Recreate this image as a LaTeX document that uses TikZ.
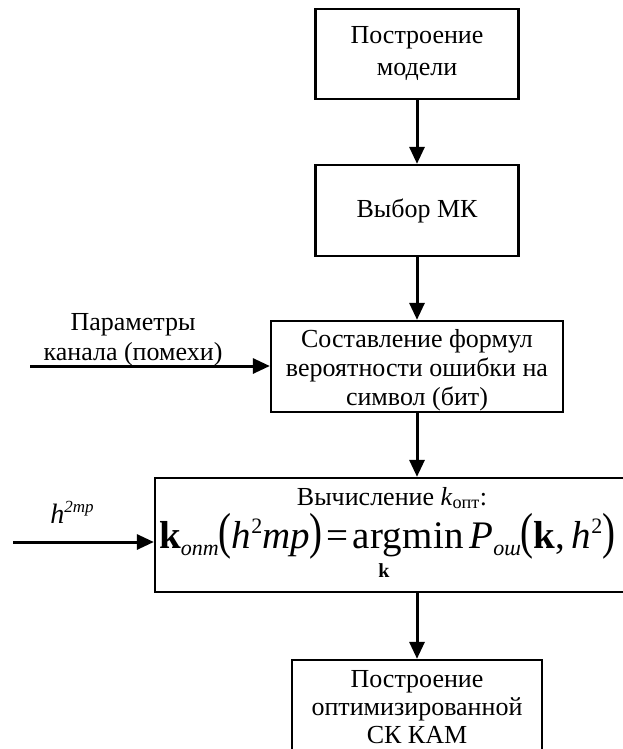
\documentclass[tikz,border=0pt]{standalone}
\usepackage{fontspec}
\setmainfont{Liberation Serif}
\usepackage{graphicx}
\usetikzlibrary{arrows.meta}
\newcommand{\fsub}[1]{\raisebox{-0.18em}{\fontsize{22}{22}\selectfont\itshape #1}}
\newcommand{\fsup}[1]{\raisebox{0.36em}{\fontsize{22}{22}\selectfont #1}}
\newcommand{\bigpar}[1]{\scalebox{1}[1.3]{#1}}
\begin{document}
\begin{tikzpicture}[x=1pt,y=-1pt,
  box/.style={draw,line width=2.3pt,align=center,inner sep=0pt,
    font=\fontsize{26}{30}\selectfont},
  arr/.style={line width=3pt,-{Triangle[length=17pt,width=15pt]}},
  lbl/.style={align=center,inner sep=0pt,font=\fontsize{26}{30}\selectfont}]
\useasboundingbox (0,0) rectangle (622,749);
\node[box,minimum width=203pt,minimum height=90pt,font=\fontsize{26}{32}\selectfont] (b1) at (417,54) {Построение\\модели};
\node[box,minimum width=203pt,minimum height=91pt] (b2) at (417,210.5) {Выбор МК};
\node[box,minimum width=292pt,minimum height=91pt] (b3) at (417,366.5) {};
\node[lbl,font=\fontsize{26}{29}\selectfont] (t3) at (417,370) {Составление формул\\вероятности ошибки на\\символ (бит)};
\node[box,minimum width=470pt,minimum height=114pt] (b4) at (390,535) {};
\node[box,minimum width=250pt,minimum height=100pt] (b5) at (417,710) {};
\node[lbl,font=\fontsize{26}{28}\selectfont] (t5) at (417,707) {Построение\\оптимизированной\\СК КАМ};
\node[lbl] (t4) at (392,498) {Вычисление \textit{k}\textsubscript{опт}:};
\node[inner sep=0pt,anchor=base west,font=\fontsize{39}{39}\selectfont] (f4) at (159,548)
  {\textbf{k}\fsub{опт}\bigpar{(}\textit{h}\fsup{2}\textit{mp}\bigpar{)}\hspace{0.1em}=\hspace{0.1em}arg\hspace{0.03em}min\hspace{0.15em}\textit{P}\fsub{ош}\bigpar{(}\textbf{k},\,\textit{h}\fsup{2}\bigpar{)}};
\node[inner sep=0pt,font=\fontsize{20}{20}\selectfont\bfseries] (kk) at (384,571) {k};
\coordinate (in1) at (30,366);
\coordinate (in2) at (13,542);
\node[lbl] (l1) at (133,340) {Параметры\\канала (помехи)};
\node[inner sep=0pt,font=\fontsize{28}{28}\selectfont] (l2) at (72,512) {\textit{h}\raisebox{0.4em}{\fontsize{17}{17}\selectfont\itshape 2mp}};
\draw[arr] (b1.south) -- (b2.north);
\draw[arr] (b2.south) -- (b3.north);
\draw[arr] (b3.south) -- (b3.south |- b4.north);
\draw[arr] (b5.north |- b4.south) -- (b5.north);
\draw[arr] (in1) -- (in1 -| b3.west);
\draw[arr] (in2) -- (in2 -| b4.west);
\end{tikzpicture}
\end{document}
